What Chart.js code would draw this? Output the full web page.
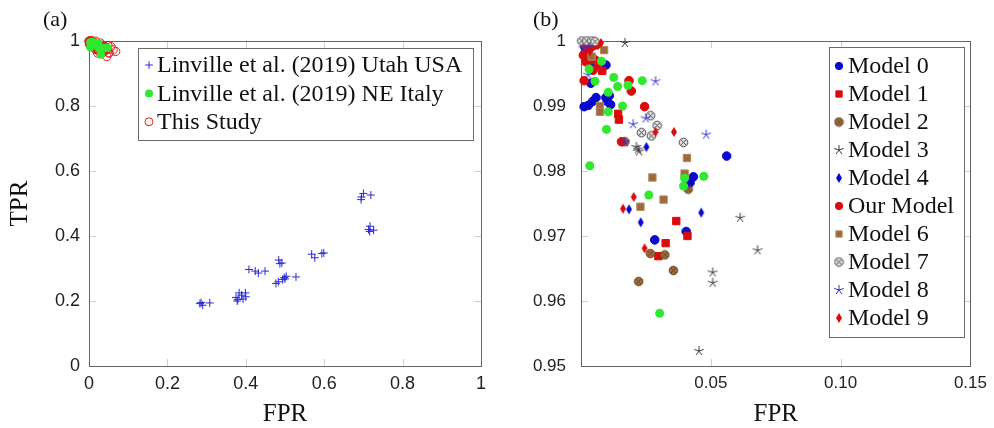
<!DOCTYPE html>
<html lang="en">
<head>
<meta charset="UTF-8" />
<title>TPR vs FPR</title>
<script src="https://cdn.jsdelivr.net/npm/chart.js@4.4.0/dist/chart.umd.min.js"></script>
<style>
  body { margin: 0; background: #fff; }
  .wrap { position: relative; width: 994px; height: 428px; overflow: hidden; }
  .panel { position: absolute; top: 0; width: 497px; height: 428px; }
  .tag { position: absolute; top: 7px; font: 22px "Liberation Serif", serif; line-height: 24px; color: #111; }
</style>
</head>
<body>
<div class="wrap">
  <div class="panel" style="left:0"><canvas id="chartA" width="497" height="428"></canvas></div>
  <div class="panel" style="left:497px"><canvas id="chartB" width="497" height="428"></canvas></div>
  <div class="tag" style="left:43px">(a)</div>
  <div class="tag" style="left:533px">(b)</div>
</div>
<script>
// data points are [FPR, TPR]
const utahUSA = [
  [0.283, 0.192], [0.290, 0.187], [0.286, 0.195], [0.308, 0.194],
  [0.375, 0.211], [0.383, 0.225], [0.389, 0.218], [0.399, 0.225], [0.400, 0.213], [0.378, 0.200], [0.393, 0.206], [0.380, 0.205],
  [0.408, 0.297], [0.424, 0.292], [0.432, 0.286], [0.449, 0.292],
  [0.484, 0.326], [0.487, 0.315], [0.492, 0.317],
  [0.477, 0.254], [0.483, 0.259], [0.494, 0.266], [0.498, 0.272], [0.503, 0.276], [0.500, 0.268], [0.528, 0.274],
  [0.568, 0.344], [0.576, 0.333], [0.594, 0.346], [0.599, 0.348],
  [0.694, 0.512], [0.695, 0.520], [0.700, 0.531], [0.719, 0.526],
  [0.713, 0.420], [0.717, 0.430], [0.716, 0.414], [0.726, 0.418]
];
const neItaly = [
  [0.0079, 0.9969], [0.0031, 0.9957], [0.0054, 0.9938], [0.0126, 0.9944], [0.0141, 0.9930], [0.0181, 0.9932],
  [0.0236, 0.9939], [0.0105, 0.9921], [0.0160, 0.9900], [0.0105, 0.9891], [0.0098, 0.9864], [0.0034, 0.9808],
  [0.0261, 0.9763], [0.0399, 0.9789], [0.0395, 0.9777], [0.0473, 0.9792], [0.0303, 0.9581]
];
const model0 = [[0.0012, 0.9899], [0.0028, 0.9901], [0.0045, 0.9907], [0.0058, 0.9913], [0.0096, 0.9913], [0.0109, 0.9916], [0.0101, 0.9907], [0.0114, 0.9902], [0.0096, 0.9963], [0.0054, 0.9963], [0.0038, 0.9935], [0.0015, 0.9991], [0.0561, 0.9823], [0.0433, 0.9791], [0.0420, 0.9782], [0.0405, 0.9707], [0.0284, 0.9694]];
const model1 = [[0.0082, 0.9954], [0.0143, 0.9888], [0.0146, 0.9879], [0.0367, 0.9723], [0.0326, 0.9689], [0.0298, 0.9669], [0.0410, 0.9700], [0.0028, 0.9978]];
const model2 = [[0.0169, 0.9845], [0.0413, 0.9772], [0.0267, 0.9673], [0.0323, 0.9671], [0.0356, 0.9647], [0.0222, 0.9630]];
const model3 = [[0.0169, 0.9997], [0.0213, 0.9837], [0.0220, 0.9833], [0.0224, 0.9830], [0.0613, 0.9728], [0.0680, 0.9678], [0.0507, 0.9644], [0.0507, 0.9628], [0.0454, 0.9523]];
const model4 = [[0.0252, 0.9837], [0.0185, 0.9741], [0.0230, 0.9721], [0.0463, 0.9736], [0.0418, 0.9782]];
const modelOurs = [[0.0012, 0.9939], [0.0185, 0.9939], [0.0194, 0.9923], [0.0245, 0.9899], [0.0156, 0.9845], [0.0015, 0.9994], [0.0028, 0.9986], [0.0009, 0.9978], [0.0035, 0.9971], [0.0054, 0.9971], [0.0066, 0.9966], [0.0047, 0.9955], [0.0019, 0.9968], [0.0041, 0.9991], [0.0060, 0.9994]];
const model6 = [[0.0089, 0.9986], [0.0041, 0.9976], [0.0073, 0.9900], [0.0073, 0.9891], [0.0408, 0.9820], [0.0275, 0.9790], [0.0399, 0.9796], [0.0318, 0.9756], [0.0229, 0.9745]];
const model7 = [[0.0003, 1.0], [0.0022, 1.0], [0.0041, 1.0], [0.0054, 0.9999], [0.0268, 0.9885], [0.0293, 0.9870], [0.0233, 0.9859], [0.0271, 0.9854], [0.0395, 0.9844]];
const model8 = [[0.0287, 0.9938], [0.0201, 0.9872], [0.0249, 0.9881], [0.0169, 0.9844], [0.0482, 0.9856], [0.0009, 0.9989], [0.0032, 0.9990], [0.0028, 0.9948]];
const model9 = [[0.0077, 0.9997], [0.0287, 0.9860], [0.0358, 0.9860], [0.0203, 0.9760], [0.0162, 0.9742], [0.0245, 0.9681], [0.0034, 0.9984]];

const modelLabels = ['Model 0', 'Model 1', 'Model 2', 'Model 3', 'Model 4', 'Our Model', 'Model 6', 'Model 7', 'Model 8', 'Model 9'];
const labelsA = ['Linville et al. (2019) Utah USA', 'Linville et al. (2019) NE Italy', 'This Study'];
const xTicksA = [0, 0.2, 0.4, 0.6, 0.8, 1];
const yTicksA = [0, 0.2, 0.4, 0.6, 0.8, 1];
const xTicksB = [0.05, 0.1, 0.15];
const yTicksB = [0.95, 0.96, 0.97, 0.98, 0.99, 1];

const modelsB = [model0, model1, model2, model3, model4, modelOurs, model6, model7, model8, model9];
const thisStudy = [].concat(...modelsB);

const SERIF = '"Liberation Serif", "DejaVu Serif", serif';
const SANS = '"Liberation Sans", "DejaVu Sans", sans-serif';
const BLUE = '#0808d0', RED = '#dc0b0b', BROWN = '#9c6a3c', GREEN = '#2fe82f', GRAY = '#3a3a3a';

// small canvases used as point styles for marks Chart.js does not have
function mark(w, h, draw) {
  const c = document.createElement('canvas');
  c.width = w; c.height = h;
  draw(c.getContext('2d'), w / 2, h / 2);
  return c;
}
function otimes(fill, line, r) {
  const s = Math.ceil(2 * r + 2);
  return mark(s, s, (g, cx, cy) => {
    g.beginPath(); g.arc(cx, cy, r, 0, 2 * Math.PI);
    g.fillStyle = fill; g.fill();
    g.strokeStyle = line; g.lineWidth = 1; g.stroke();
    const d = r * Math.SQRT1_2;
    g.beginPath();
    g.moveTo(cx - d, cy - d); g.lineTo(cx + d, cy + d);
    g.moveTo(cx + d, cy - d); g.lineTo(cx - d, cy + d);
    g.stroke();
  });
}
function asterisk(color, r) {
  const s = Math.ceil(2 * r + 2);
  return mark(s, s, (g, cx, cy) => {
    g.strokeStyle = color; g.lineWidth = 1;
    g.beginPath();
    for (let k = 0; k < 5; k++) {
      const a = -Math.PI / 2 + k * 2 * Math.PI / 5;
      g.moveTo(cx, cy); g.lineTo(cx + r * Math.cos(a), cy + r * Math.sin(a));
    }
    g.stroke();
  });
}
function diamond(color, hw, hh) {
  return mark(2 * hw + 2, 2 * hh + 2, (g, cx, cy) => {
    g.beginPath();
    g.moveTo(cx, cy - hh); g.lineTo(cx + hw, cy); g.lineTo(cx, cy + hh); g.lineTo(cx - hw, cy);
    g.closePath(); g.fillStyle = color; g.fill();
  });
}

const styleB = [
  { style: 'circle', r: 4.3, fill: BLUE, line: BLUE },
  { style: 'rect', r: 5.2, fill: RED, line: RED },
  { style: otimes(BROWN, '#6e4a26', 4.3), r: 4.3 },
  { style: asterisk(GRAY, 5), r: 5 },
  { style: diamond(BLUE, 3, 5), r: 5 },
  { style: 'circle', r: 4.3, fill: RED, line: RED },
  { style: 'rect', r: 5.2, fill: BROWN, line: '#b5895e' },
  { style: otimes('#e2e2e2', '#4a4a4a', 4.3), r: 4.3 },
  { style: asterisk('#3434d4', 5), r: 5 },
  { style: diamond(RED, 3, 5), r: 5 }
];

const toXY = pts => pts.map(p => ({ x: p[0], y: p[1] }));

const datasetsA = [
  { label: labelsA[0], data: toXY(utahUSA), pointStyle: 'cross', pointRadius: 4, pointBackgroundColor: 'transparent', pointBorderColor: '#2a2ad8', pointBorderWidth: 1, order: 0, clip: false },
  { label: labelsA[1], data: toXY(neItaly), pointStyle: 'circle', pointRadius: 4.2, pointBackgroundColor: GREEN, pointBorderColor: GREEN, pointBorderWidth: 0, order: 1, clip: false },
  { label: labelsA[2], data: toXY(thisStudy), pointStyle: 'circle', pointRadius: 4.2, pointBackgroundColor: 'transparent', pointBorderColor: '#e02020', pointBorderWidth: 1, order: 2, clip: false }
];

const datasetsB = modelsB.map((pts, i) => ({
  label: modelLabels[i],
  data: toXY(pts),
  pointStyle: styleB[i].style,
  pointRadius: styleB[i].r,
  pointBackgroundColor: styleB[i].fill || 'transparent',
  pointBorderColor: styleB[i].line || 'transparent',
  pointBorderWidth: styleB[i].fill ? 1 : 0,
  order: -i,
  clip: false
}));
datasetsB.push({ label: labelsA[1], hideInLegend: true, data: toXY(neItaly), pointStyle: 'circle', pointRadius: 4.5, pointBackgroundColor: GREEN, pointBorderColor: GREEN, pointBorderWidth: 0, order: -20, clip: false });

// frame + short inner tick marks like pgfplots
const innerTicks = {
  id: 'innerTicks',
  beforeDatasetsDraw(chart, args, o) {
    const { ctx, chartArea: a, scales: { x, y } } = chart;
    ctx.save();
    ctx.strokeStyle = o.color; ctx.lineWidth = 1;
    ctx.beginPath();
    x.ticks.forEach(t => {
      const px = Math.round(x.getPixelForValue(t.value)) + 0.5;
      ctx.moveTo(px, a.bottom); ctx.lineTo(px, a.bottom - o.len);
      ctx.moveTo(px, a.top); ctx.lineTo(px, a.top + o.len);
    });
    y.ticks.forEach(t => {
      const py = Math.round(y.getPixelForValue(t.value)) + 0.5;
      ctx.moveTo(a.left, py); ctx.lineTo(a.left + o.len, py);
      ctx.moveTo(a.right, py); ctx.lineTo(a.right - o.len, py);
    });
    ctx.stroke();
    ctx.strokeStyle = o.frame;
    ctx.strokeRect(Math.round(a.left) + 0.5, Math.round(a.top) + 0.5, Math.round(a.right - a.left), Math.round(a.bottom - a.top));
    ctx.restore();
  }
};

// legend box drawn inside the plot area
const boxLegend = {
  id: 'boxLegend',
  afterDraw(chart, args, o) {
    const ctx = chart.ctx;
    const items = chart.data.datasets.filter(d => !d.hideInLegend);
    ctx.save();
    ctx.fillStyle = '#fff';
    ctx.fillRect(o.x, o.y, o.w, o.h);
    ctx.strokeStyle = '#6a6a6a'; ctx.lineWidth = 1;
    ctx.strokeRect(o.x + 0.5, o.y + 0.5, o.w, o.h);
    ctx.font = o.font; ctx.textBaseline = 'middle'; ctx.textAlign = 'left';
    items.forEach((d, i) => {
      const cy = o.y + o.first + i * o.row;
      ctx.fillStyle = d.pointBackgroundColor; ctx.strokeStyle = d.pointBorderColor;
      ctx.lineWidth = d.pointBorderWidth || 1;
      Chart.helpers.drawPoint(ctx, { pointStyle: d.pointStyle, rotation: 0, radius: d.pointRadius * o.scale, borderWidth: d.pointBorderWidth }, o.x + o.markX, cy);
      ctx.fillStyle = '#111';
      ctx.fillText(d.label, o.x + o.textX, cy + 1);
    });
    ctx.restore();
  }
};

function makeChart(id, datasets, o) {
  return new Chart(document.getElementById(id), {
    type: 'scatter',
    data: { datasets },
    plugins: [innerTicks, boxLegend],
    options: {
      responsive: false,
      animation: false,
      events: [],
      layout: { padding: o.padding },
      plugins: {
        legend: { display: false },
        tooltip: { enabled: false },
        innerTicks: { len: 7, color: '#cfcfcf', frame: '#666' },
        boxLegend: o.legend
      },
      scales: {
        x: {
          type: 'linear', min: o.xMin, max: o.xMax,
          grid: { display: false, drawTicks: false }, border: { display: false },
          afterBuildTicks: s => { s.ticks = o.xTicks.map(v => ({ value: v })); },
          afterFit: s => { s.height = 62; },
          ticks: { padding: 7, autoSkip: false, maxRotation: 0, color: '#222', font: { family: SANS, size: o.tickSize }, callback: o.xFmt },
          title: { display: true, text: 'FPR', color: '#111', font: { family: SERIF, size: 25, lineHeight: 1.1 }, padding: 0 }
        },
        y: {
          type: 'linear', min: o.yMin, max: o.yMax,
          grid: { display: false, drawTicks: false }, border: { display: false },
          afterBuildTicks: s => { s.ticks = o.yTicks.map(v => ({ value: v })); },
          afterFit: s => { s.width = o.yWidth; },
          ticks: { padding: o.yPad, autoSkip: false, color: '#222', font: { family: SANS, size: o.tickSize }, callback: o.yFmt },
          title: { display: !!o.yTitle, text: o.yTitle || '', color: '#111', font: { family: SERIF, size: 25, lineHeight: 1.1 }, padding: { top: 7, bottom: 0 } }
        }
      }
    }
  });
}

makeChart('chartA', datasetsA, {
  padding: { left: 0, right: 16, top: 41, bottom: 0 },
  xMin: 0, xMax: 1, yMin: 0, yMax: 1,
  xTicks: xTicksA, yTicks: yTicksA,
  xFmt: v => String(v), yFmt: v => String(v),
  tickSize: 18, yWidth: 89, yPad: 9, yTitle: 'TPR',
  legend: { x: 138, y: 48, w: 335, h: 92, first: 17, row: 28.4, markX: 11, textX: 19, scale: 0.95, font: '24px ' + SERIF }
});

makeChart('chartB', datasetsB, {
  padding: { left: 0, right: 22, top: 41, bottom: 0 },
  xMin: 0, xMax: 0.15, yMin: 0.95, yMax: 1,
  xTicks: xTicksB, yTicks: yTicksB,
  xFmt: v => v.toFixed(2), yFmt: v => (v === 1 ? '1' : v.toFixed(2)),
  tickSize: 17, yWidth: 84, yPad: 15, yTitle: '',
  legend: { x: 332, y: 47, w: 135, h: 290, first: 19, row: 28, markX: 10, textX: 19, scale: 0.85, font: '24px ' + SERIF }
});
</script>
</body>
</html>
